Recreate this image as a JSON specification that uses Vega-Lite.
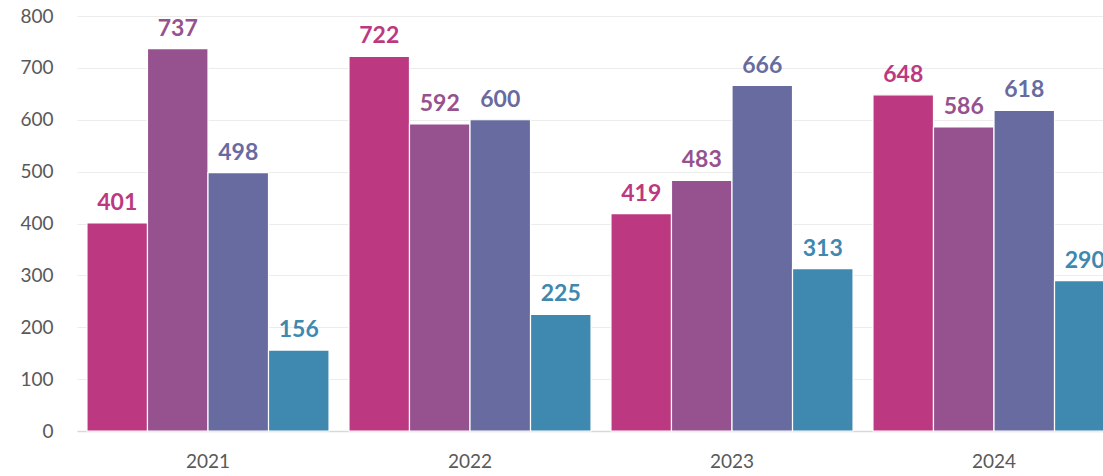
{
  "$schema": "https://vega.github.io/schema/vega-lite/v6.json",
  "width": 1048,
  "height": 415,
  "autosize": {"type": "none"},
  "padding": {"left": 77, "top": 16, "right": 0, "bottom": 45},
  "background": "white",
  "config": {"view": {"stroke": null}, "font": "Lato"},
  "data": {"values": [
    {"year": "2021", "series": "S1", "value": 401},
    {"year": "2021", "series": "S2", "value": 737},
    {"year": "2021", "series": "S3", "value": 498},
    {"year": "2021", "series": "S4", "value": 156},
    {"year": "2022", "series": "S1", "value": 722},
    {"year": "2022", "series": "S2", "value": 592},
    {"year": "2022", "series": "S3", "value": 600},
    {"year": "2022", "series": "S4", "value": 225},
    {"year": "2023", "series": "S1", "value": 419},
    {"year": "2023", "series": "S2", "value": 483},
    {"year": "2023", "series": "S3", "value": 666},
    {"year": "2023", "series": "S4", "value": 313},
    {"year": "2024", "series": "S1", "value": 648},
    {"year": "2024", "series": "S2", "value": 586},
    {"year": "2024", "series": "S3", "value": 618},
    {"year": "2024", "series": "S4", "value": 290}
  ]},
  "encoding": {
    "x": {"field": "year", "type": "nominal", "title": null,
      "scale": {"paddingInner": 0.076, "paddingOuter": 0.038},
      "axis": {"labelAngle": 0, "labelFontSize": 19, "labelColor": "#595959", "labelPadding": 21, "ticks": false, "domainColor": "#d9d9d9", "domainWidth": 1.5}},
    "xOffset": {"field": "series", "type": "nominal", "scale": {"paddingInner": 0, "paddingOuter": 0}},
    "y": {"field": "value", "type": "quantitative", "title": null,
      "scale": {"domain": [0, 800], "nice": false},
      "axis": {"values": [0,100,200,300,400,500,600,700,800], "labelFontSize": 19, "labelColor": "#595959", "labelPadding": 24, "ticks": false, "domain": false, "gridColor": "#ececec", "gridWidth": 1.2}},
    "color": {"field": "series", "type": "nominal", "legend": null,
      "scale": {"domain": ["S1","S2","S3","S4"], "range": ["#BC3981", "#96518F", "#686BA0", "#3F88AF"]}}
  },
  "layer": [
    {"mark": {"type": "bar", "stroke": "white", "strokeWidth": 1.2}},
    {"mark": {"type": "text", "baseline": "bottom", "dy": -8, "fontSize": 23, "fontWeight": "bold"},
     "encoding": {"text": {"field": "value", "type": "quantitative"}}}
  ]
}
